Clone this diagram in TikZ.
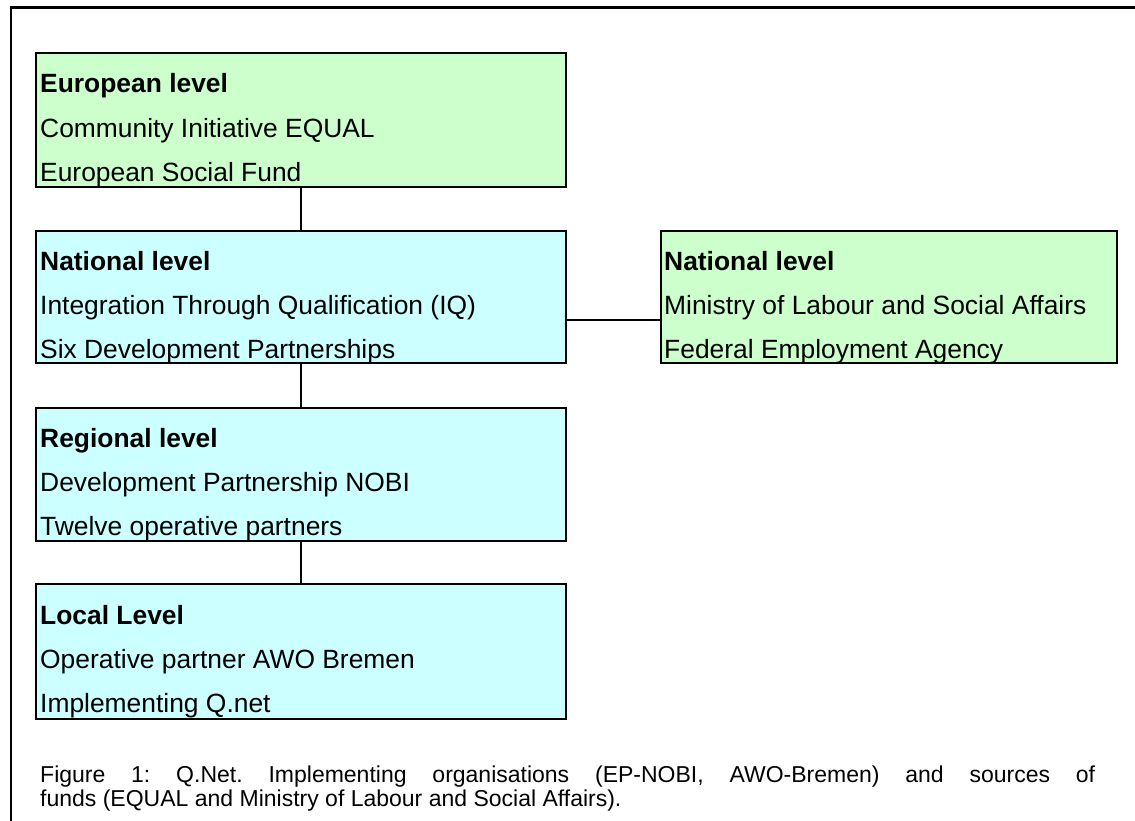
\documentclass[tikz,border=0pt]{standalone}
\usepackage{fontspec}
\setmainfont{Liberation Sans}
\definecolor{boxgreen}{HTML}{CCFFCC}
\definecolor{boxcyan}{HTML}{CCFFFF}
\frenchspacing
\begin{document}
\begin{tikzpicture}[x=1pt,y=-1pt,
  levelbox/.style={draw=black, line width=1.8pt, inner sep=0pt, outer sep=0pt, rectangle, anchor=north west},
  greenbox/.style={levelbox, fill=boxgreen},
  cyanbox/.style={levelbox, fill=boxcyan},
  boxtxt/.style={anchor=base west, inner sep=0pt, font=\fontsize{26.4pt}{30pt}\selectfont},
  boxhead/.style={boxtxt, font=\fontsize{26.4pt}{30pt}\selectfont\bfseries},
  captxt/.style={anchor=base west, inner sep=0pt, font=\fontsize{23pt}{24pt}\selectfont},
  link/.style={draw=black, line width=1.8pt}]
\useasboundingbox (0,0) rectangle (1135,820);
\fill[white] (0,0) rectangle (1135,820);
% outer frame (open to the right and bottom)
\draw[line width=2.5pt] (1140,7.5) -- (11,7.5) -- (11,825);

% boxes
\node[greenbox, minimum width=530pt, minimum height=134pt] (eu) at (36,53) {};
\node[cyanbox, minimum width=530pt, minimum height=132pt] (natl) at (36,231) {};
\node[greenbox, minimum width=456pt, minimum height=132pt] (natr) at (661,231) {};
\node[cyanbox, minimum width=530pt, minimum height=133pt] (reg) at (36,408) {};
\node[cyanbox, minimum width=530pt, minimum height=135pt] (loc) at (36,584) {};

% connectors
\draw[link] (eu.south) -- (natl.north);
\draw[link] (natl.south) -- (reg.north);
\draw[link] (reg.south) -- (loc.north);
\coordinate (jn) at (natl.east |- 0,320);
\draw[link] (jn) -- (jn -| natr.west);

% texts
\node[boxhead] (eu1) at (40,92) {European level};
\node[boxtxt] (eu2) at (40,137) {Community Initiative EQUAL};
\node[boxtxt] (eu3) at (40,181) {European Social Fund};

\node[boxhead] (nl1) at (40,270) {National level};
\node[boxtxt] (nl2) at (40,314) {Integration Through Qualification (IQ)};
\node[boxtxt] (nl3) at (40,358) {Six Development Partnerships};

\node[boxhead] (nr1) at (664,270) {National level};
\node[boxtxt] (nr2) at (664,314) {Ministry of Labour and Social Affairs};
\node[boxtxt] (nr3) at (664,358) {Federal Employment Agency};

\node[boxhead] (rg1) at (40,447) {Regional level};
\node[boxtxt] (rg2) at (40,491) {Development Partnership NOBI};
\node[boxtxt] (rg3) at (40,535) {Twelve operative partners};

\node[boxhead] (lc1) at (40,624) {Local Level};
\node[boxtxt] (lc2) at (40,668) {Operative partner AWO Bremen};
\node[boxtxt] (lc3) at (40,712) {Implementing Q.net};

% caption
\node[captxt] (cap1) at (40,782) {\makebox[1055pt][s]{Figure 1: Q.Net. Implementing organisations (EP-NOBI, AWO-Bremen) and sources of}};
\node[captxt] (cap2) at (40,806) {funds (EQUAL and Ministry of Labour and Social Affairs).};
\end{tikzpicture}
\end{document}
